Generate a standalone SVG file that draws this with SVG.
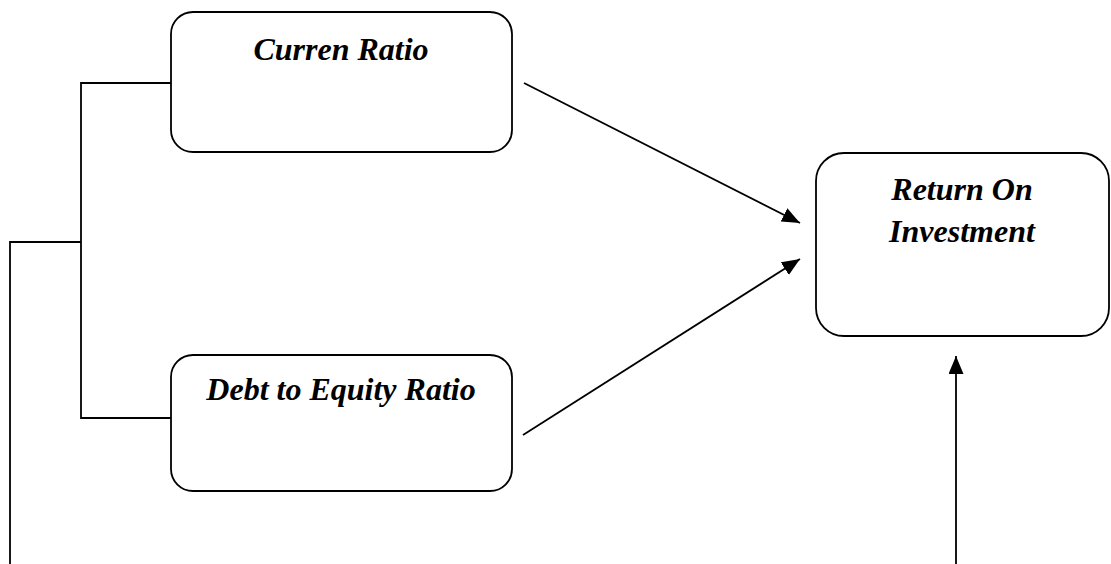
<svg xmlns="http://www.w3.org/2000/svg" width="1111" height="564" viewBox="0 0 1111 564">
<style>
.box{fill:#fff;stroke:#000;stroke-width:1.8}
.lbl{font-family:"Liberation Serif","Times New Roman",serif;font-style:italic;font-weight:bold;font-size:32px;fill:#000;text-anchor:middle}
.con{fill:none;stroke:#000;stroke-width:1.8}
</style>
<defs>
<marker id="ah" markerUnits="userSpaceOnUse" markerWidth="18" markerHeight="15" refX="18" refY="7.5" orient="auto">
<path d="M0,0 L18,7.5 L0,15 Z" fill="#000"/>
</marker>
</defs>
<rect width="1111" height="564" fill="#fff"/>
<g id="connectors">
<path class="con" d="M171,83 H81 V418 H171"/>
<path class="con" d="M81,242 H10 V564"/>
<line class="con" x1="524" y1="83" x2="800" y2="223" marker-end="url(#ah)"/>
<line class="con" x1="523" y1="435" x2="800" y2="259" marker-end="url(#ah)"/>
<line class="con" x1="956" y1="564" x2="956" y2="356" marker-end="url(#ah)"/>
</g>
<g id="node-current-ratio">
<rect class="box" x="171" y="12" width="341" height="140" rx="22"/>
<text class="lbl" x="341" y="60">Curren Ratio</text>
</g>
<g id="node-der">
<rect class="box" x="171" y="355" width="341" height="136" rx="22"/>
<text class="lbl" x="341" y="400">Debt to Equity Ratio</text>
</g>
<g id="node-roi">
<rect class="box" x="816" y="153" width="293" height="183" rx="28"/>
<text class="lbl" x="962" y="200">Return On</text>
<text class="lbl" x="962" y="242">Investment</text>
</g>
</svg>
